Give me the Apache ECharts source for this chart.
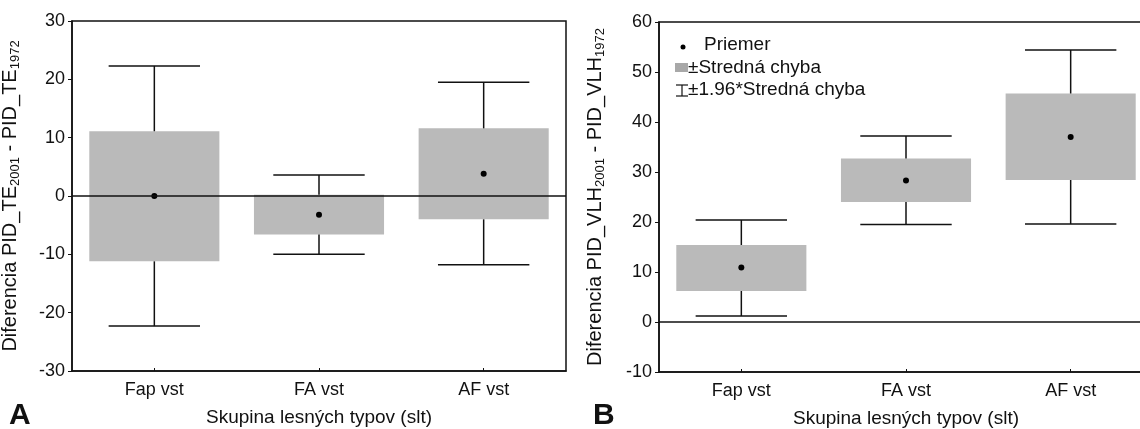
<!DOCTYPE html>
<html>
<head>
<meta charset="utf-8">
<script src="https://cdn.jsdelivr.net/npm/echarts@6/dist/echarts.min.js"></script>
<style>
html,body{margin:0;padding:0;background:#fff;}
#c{width:1140px;height:429px;}
</style>
</head>
<body>
<div id="c"></div>
<script>
// ---- data ----
const categories = ['Fap vst', 'FA vst', 'AF vst'];

// Panel A: PID_TE difference
const meanA   = [0.0, -3.2, 3.8];
const seLowA  = [-11.2, -6.6, -4.0];
const seHighA = [11.1, 0.2, 11.6];
const ciLowA  = [-22.3, -10.0, -11.8];
const ciHighA = [22.3, 3.6, 19.5];
const yRangeA = [-30, 30];

// Panel B: PID_VLH difference
const meanB   = [10.9, 28.3, 37.0];
const seLowB  = [6.2, 24.0, 28.4];
const seHighB = [15.4, 32.7, 45.7];
const ciLowB  = [1.2, 19.5, 19.6];
const ciHighB = [20.4, 37.2, 54.4];
const yRangeB = [-10, 60];

const yTickStep = 10;

const legendLabels = ['Priemer', '±Stredná chyba', '±1.96*Stredná chyba'];
const xTitle = 'Skupina lesných typov (slt)';

// ---- chart ----
const FONT = "'Liberation Sans', Arial, sans-serif";
const INK = '#111';
const BOXFILL = '#bababa';

function rows(m, sl, sh, cl, ch) {
  return m.map((v, i) => [i, v, sl[i], sh[i], cl[i], ch[i]]);
}

function renderItem(params, api) {
  const x = api.value(0);
  const m = api.coord([x, api.value(1)]);
  const sl = api.coord([x, api.value(2)]);
  const sh = api.coord([x, api.value(3)]);
  const cl = api.coord([x, api.value(4)]);
  const ch = api.coord([x, api.value(5)]);
  const band = api.size([1, 0])[0];
  const bw = band * 0.79;
  const cw = band * 0.555;
  const cx = m[0];
  const ls = { stroke: INK, lineWidth: 1.5 };
  return {
    type: 'group',
    children: [
      { type: 'rect', shape: { x: cx - bw / 2, y: sh[1], width: bw, height: sl[1] - sh[1] },
        style: { fill: BOXFILL }, z2: 1 },
      { type: 'line', shape: { x1: cx, y1: ch[1], x2: cx, y2: sh[1] }, style: ls, z2: 2 },
      { type: 'line', shape: { x1: cx, y1: sl[1], x2: cx, y2: cl[1] }, style: ls, z2: 2 },
      { type: 'line', shape: { x1: cx - cw / 2, y1: ch[1], x2: cx + cw / 2, y2: ch[1] }, style: ls, z2: 2 },
      { type: 'line', shape: { x1: cx - cw / 2, y1: cl[1], x2: cx + cw / 2, y2: cl[1] }, style: ls, z2: 2 },
      { type: 'circle', shape: { cx: cx, cy: m[1], r: 3 }, style: { fill: '#000' }, z2: 3 }
    ]
  };
}

function xAxisCfg(gi) {
  return {
    type: 'category', gridIndex: gi, data: categories,
    boundaryGap: true,
    axisLine: { show: true, onZero: false, lineStyle: { color: INK, width: 1.5 } },
    axisTick: { show: true, inside: true, length: 3, alignWithLabel: true, lineStyle: { color: INK } },
    axisLabel: { color: INK, fontFamily: FONT, fontSize: 18, margin: 10 },
    name: xTitle, nameLocation: 'middle', nameGap: 37,
    nameTextStyle: { color: INK, fontFamily: FONT, fontSize: 19 },
    splitLine: { show: false }
  };
}

function yAxisCfg(gi, range, nameStr, gap) {
  return {
    type: 'value', gridIndex: gi, min: range[0], max: range[1], interval: yTickStep,
    axisLine: { show: true, lineStyle: { color: INK, width: 1.5 } },
    axisTick: { show: true, length: 4, lineStyle: { color: INK } },
    axisLabel: { color: INK, fontFamily: FONT, fontSize: 18, margin: 7 },
    splitLine: { show: false },
    name: nameStr, nameLocation: 'middle', nameRotate: 90, nameGap: gap,
    nameTextStyle: {
      color: INK, fontFamily: FONT, fontSize: 20, lineHeight: 23,
      rich: { s: { fontFamily: FONT, fontSize: 13, lineHeight: 23, verticalAlign: 'bottom', color: INK } }
    }
  };
}

const chart = echarts.init(document.getElementById('c'), null, { renderer: 'canvas' });

const zeroMark = {
  silent: true, symbol: 'none', label: { show: false },
  lineStyle: { color: INK, width: 1.5, type: 'solid' },
  data: [{ yAxis: 0 }]
};

chart.setOption({
  animation: false,
  backgroundColor: '#fff',
  grid: [
    { left: 72, top: 21, width: 494, height: 350, show: true, borderColor: INK, borderWidth: 1.5,
      backgroundColor: 'transparent', outerBoundsMode: 'none', containLabel: false },
    { left: 659, top: 22, width: 494, height: 350, show: true, borderColor: INK, borderWidth: 1.5,
      backgroundColor: 'transparent', outerBoundsMode: 'none', containLabel: false }
  ],
  xAxis: [xAxisCfg(0), xAxisCfg(1)],
  yAxis: [
    yAxisCfg(0, yRangeA, 'Diferencia PID_TE{s|2001} - PID_TE{s|1972}', 50),
    yAxisCfg(1, yRangeB, 'Diferencia PID_VLH{s|2001} - PID_VLH{s|1972}', 52)
  ],
  series: [
    { type: 'custom', xAxisIndex: 0, yAxisIndex: 0, renderItem: renderItem,
      data: rows(meanA, seLowA, seHighA, ciLowA, ciHighA), markLine: zeroMark, z: 2 },
    { type: 'custom', xAxisIndex: 1, yAxisIndex: 1, renderItem: renderItem,
      data: rows(meanB, seLowB, seHighB, ciLowB, ciHighB), markLine: zeroMark, z: 2 }
  ],
  graphic: [
    { type: 'text', left: 9, top: 401, style: { text: 'A', font: "bold 30px 'Liberation Sans', Arial", fill: INK } },
    { type: 'text', left: 593, top: 401, style: { text: 'B', font: "bold 30px 'Liberation Sans', Arial", fill: INK } },
    // legend inside panel B
    { type: 'circle', shape: { cx: 683, cy: 47, r: 2.5 }, style: { fill: '#000' } },
    { type: 'text', x: 704, y: 45, style: { text: legendLabels[0], font: "19px 'Liberation Sans', Arial", fill: INK, textVerticalAlign: 'middle' } },
    { type: 'rect', shape: { x: 675, y: 63, width: 13, height: 9 }, style: { fill: '#a8a8a8' } },
    { type: 'text', x: 688, y: 68, style: { text: legendLabels[1], font: "19px 'Liberation Sans', Arial", fill: INK, textVerticalAlign: 'middle' } },
    { type: 'line', shape: { x1: 676, y1: 85, x2: 688, y2: 85 }, style: { stroke: INK, lineWidth: 1.2 } },
    { type: 'line', shape: { x1: 676, y1: 96, x2: 688, y2: 96 }, style: { stroke: INK, lineWidth: 1.2 } },
    { type: 'line', shape: { x1: 682, y1: 85, x2: 682, y2: 96 }, style: { stroke: INK, lineWidth: 1.2 } },
    { type: 'text', x: 688, y: 90, style: { text: legendLabels[2], font: "19px 'Liberation Sans', Arial", fill: INK, textVerticalAlign: 'middle' } }
  ]
});
</script>
</body>
</html>
